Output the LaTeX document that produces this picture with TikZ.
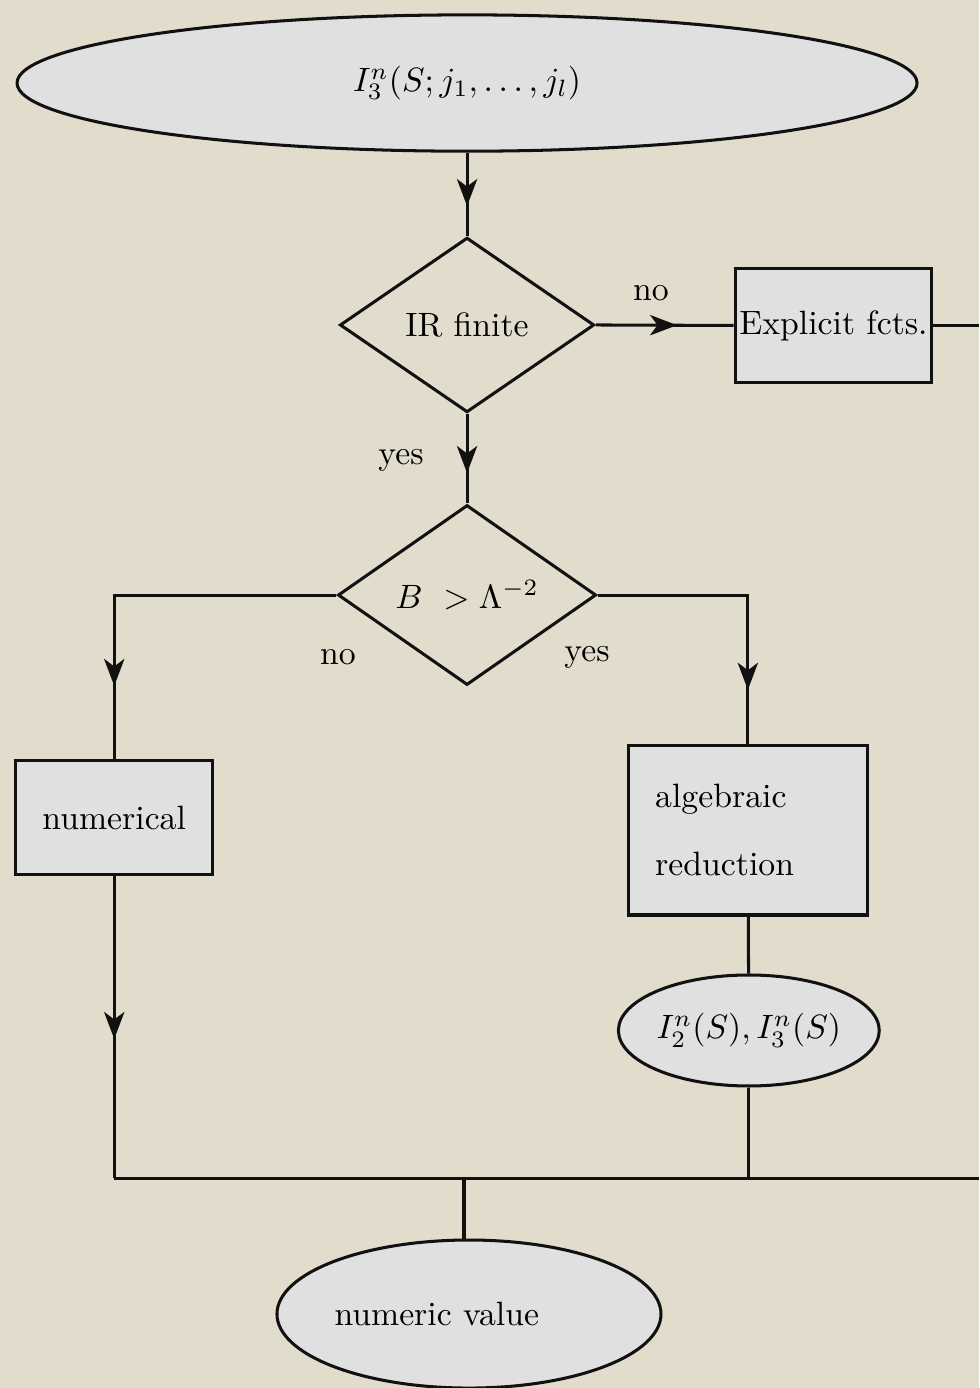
\documentclass[tikz,border=0pt]{standalone}
\usepackage{amsmath,amssymb}
\usepackage{tikz}
\usepackage{xcolor}
\usetikzlibrary{arrows.meta,positioning,shapes.geometric,decorations.markings}
\definecolor{paper}{HTML}{E2DCCD}
\definecolor{ink}{HTML}{111111}
\definecolor{boxgray}{HTML}{E0E0E0}
\tikzset{
  termnode/.style={draw=ink,fill=boxgray,ellipse,line width=0.9pt,
                   inner sep=0pt,align=center},
  decision/.style={draw=ink,diamond,line width=0.9pt,inner sep=0pt,
                   minimum width=2.65cm,minimum height=1.82cm,align=center},
  procbox/.style={draw=ink,fill=boxgray,rectangle,line width=0.9pt,
                  minimum width=2.05cm,minimum height=1.18cm,
                  inner sep=1pt,align=center},
  flowline/.style={draw=ink,line width=0.9pt},
  midarrow/.style={flowline,postaction={decorate},
                   decoration={markings,mark=at position #1 with
                   {\arrow{Stealth[length=8pt,width=6pt,inset=2.2pt]}}}},
  branchlabel/.style={inner sep=0pt}
}

\begin{document}
\begin{tikzpicture}[x=1cm,y=1cm,>=Latex]
  \path[use as bounding box,fill=paper] (0,0) rectangle (10.198,-14.458);
  \clip (0,0) rectangle (10.198,-14.458);

  \node[termnode,minimum width=9.375cm,minimum height=1.42cm] (start) at (4.865,-0.865) {$I_3^n(S;j_1,\dots,j_l)$};
  \node[decision] (irfin) at (4.865,-3.385) {IR finite};
  \node[procbox] (explicit) at (8.682,-3.39) {Explicit fcts.};
  \node[decision,minimum width=2.69cm,minimum height=1.875cm] (bcut) at (4.865,-6.198) {$B\ >\Lambda^{-2}$};
  \node[procbox] (numer) at (1.19,-8.516) {numerical};
  \node[procbox,minimum height=1.77cm,text width=1.93cm,align=left,inner xsep=0.28cm] (algred) at (7.79,-8.646) {algebraic\\[8pt]reduction};
  \node[termnode,minimum width=2.656cm,minimum height=1.156cm] (basis) at (7.80,-10.734) {$I_2^n(S),I_3^n(S)$};
  \node[termnode,minimum width=4.0cm,minimum height=1.542cm,text width=2.8cm,align=left] (result) at (4.885,-13.6875) {numeric value};

  \coordinate (explout) at (10.198,-3.39);
  \coordinate (bus) at (4.833,-12.271);
  \coordinate (busout) at (10.198,-12.271);

  \node[branchlabel] (noA) at (6.781,-3.052) {no};
  \node[branchlabel] (yesA) at (4.177,-4.792) {yes};
  \node[branchlabel] (noB) at (3.521,-6.844) {no};
  \node[branchlabel] (yesB) at (6.115,-6.844) {yes};

  \draw[midarrow=0.64] (start) -- (irfin);
  \draw[midarrow=0.59] (irfin.east) -- (explicit.west);
  \draw[flowline] (explicit.east) -- (explout);
  \draw[midarrow=0.66] (irfin) -- (bcut);
  \draw[midarrow=0.81] (bcut.west) -| (numer.north);
  \draw[midarrow=0.82] (bcut.east) -| (algred.north);
  \draw[flowline] (algred) -- (basis);
  \draw[midarrow=0.54] (numer.south) -- (numer |- bus);
  \draw[flowline] (numer |- bus) -- (busout);
  \draw[flowline] (basis) -- (basis |- bus);
  \draw[flowline] (bus) -- (bus |- result.north);
\end{tikzpicture}
\end{document}
